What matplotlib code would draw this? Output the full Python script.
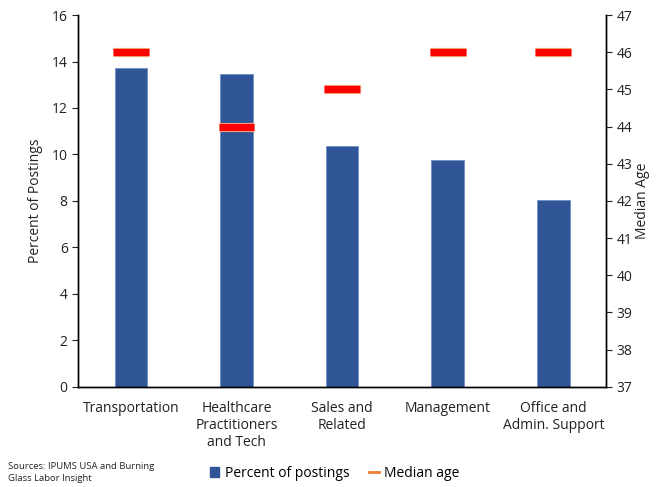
import matplotlib
matplotlib.use("Agg")
import matplotlib.pyplot as plt
import matplotlib.patheffects as pe
from matplotlib.lines import Line2D
from matplotlib.patches import Patch
import numpy as np

plt.rcParams["font.family"] = ["Open Sans", "DejaVu Sans"]

CATEGORIES = ["Transportation", "Healthcare\nPractitioners\nand Tech",
              "Sales and\nRelated", "Management", "Office and\nAdmin. Support"]
PCT_POSTINGS = [13.72, 13.46, 10.37, 9.76, 8.04]
MEDIAN_AGE = [46, 44, 45, 46, 46]

BAR_C = "#2F5597"
MED_C = "#FF0000"
MED_EDGE = "#F4B183"
LEG_MED = "#ED7D31"

fig = plt.figure(figsize=(6.56, 4.87), dpi=100)
ax = fig.add_axes([0.119, 0.206, 0.805, 0.763])
ax2 = ax.twinx()

x = np.arange(len(CATEGORIES))
ax.bar(x, PCT_POSTINGS, width=0.31, color=BAR_C, edgecolor="#6F8FC7",
       linewidth=0.6, zorder=2)

hw = 0.17
ax2.hlines(MEDIAN_AGE, x - hw, x + hw, color=MED_C, linewidth=5.2, zorder=3,
           path_effects=[pe.Stroke(linewidth=6.6, foreground=MED_EDGE), pe.Normal()])

ax.set_xlim(-0.5, len(CATEGORIES) - 0.5)
ax.set_ylim(0, 16)
ax.set_yticks(range(0, 17, 2))
ax2.set_ylim(37, 47)
ax2.set_yticks(range(37, 48))

ax.set_xticks(x)
ax.set_xticklabels(CATEGORIES, fontsize=10, color="#222222")
ax.tick_params(axis="x", length=0, pad=10)
ax.tick_params(axis="y", labelsize=10, colors="#222222", length=4, direction="out")
ax2.tick_params(axis="y", labelsize=10, colors="#222222", length=4, direction="out")

ax.set_ylabel("Percent of Postings", fontsize=10, color="#222222", labelpad=6)
ax2.set_ylabel("Median Age", fontsize=10, color="#222222", labelpad=2)

for a in (ax, ax2):
    a.spines["top"].set_visible(False)
    for s in ("left", "right", "bottom"):
        a.spines[s].set_color("black")
        a.spines[s].set_linewidth(1.0)

fig.text(0.012, 0.008, "Sources: IPUMS USA and Burning\nGlass Labor Insight",
         fontsize=6.8, color="#222222", va="bottom", linespacing=1.5)

handles = [Patch(facecolor=BAR_C, edgecolor=BAR_C, label="Percent of postings"),
           Line2D([], [], color=LEG_MED, linewidth=2, label="Median age")]
fig.legend(handles=handles, loc="center", bbox_to_anchor=(0.51, 0.028), ncols=2,
           frameon=False, fontsize=10, handlelength=0.7, handleheight=0.7,
           handletextpad=0.4, columnspacing=1.4)

fig.savefig("out.png", dpi=100)
